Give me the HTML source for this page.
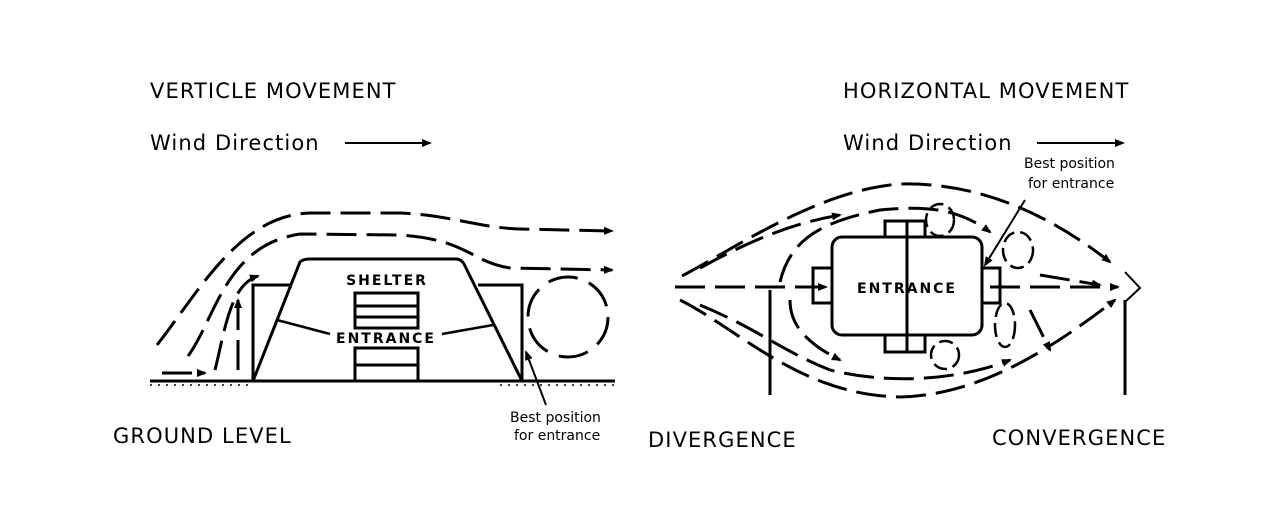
<!DOCTYPE html>
<html><head><meta charset="utf-8"><style>
html,body{margin:0;padding:0;background:#fff}
svg{display:block}
text{font-family:"DejaVu Sans","Liberation Sans",sans-serif;fill:#000}
</style></head><body>
<svg width="1280" height="530" viewBox="0 0 1280 530" xmlns="http://www.w3.org/2000/svg">
<defs>
<marker id="a" markerWidth="10" markerHeight="8" refX="8" refY="4" orient="auto" markerUnits="userSpaceOnUse"><path d="M0,0 L10,4 L0,8 Z" fill="#000"/></marker>
</defs>
<g font-size="21" letter-spacing="1.1">
<text x="150" y="98">VERTICLE MOVEMENT</text>
<text x="150" y="150">Wind Direction</text>
<text x="843" y="98">HORIZONTAL MOVEMENT</text>
<text x="843" y="150">Wind Direction</text>
<text x="113" y="443">GROUND LEVEL</text>
<text x="648" y="447">DIVERGENCE</text>
<text x="992" y="445">CONVERGENCE</text>
</g>
<g font-size="14">
<text x="510" y="422">Best position</text>
<text x="514" y="440">for entrance</text>
<text x="1024" y="168">Best position</text>
<text x="1028" y="188">for entrance</text>
</g>
<g stroke="#000" stroke-width="2" fill="none">
<line x1="345" y1="143" x2="430" y2="143" marker-end="url(#a)"/>
<line x1="1037" y1="143" x2="1123" y2="143" marker-end="url(#a)"/>
</g>
<!-- LEFT -->
<g stroke="#000" stroke-width="3" fill="none">
<line x1="150" y1="381" x2="615" y2="381"/>
<path d="M253,381 L300,262 Q303,259 310,259 L457,259 Q462,260 464,264 L522,381"/>
<path d="M253,381 L253,285 L290,285 M478,285 L522,285 L522,381"/>
<rect x="355" y="293" width="63" height="35"/>
<line x1="355" y1="306" x2="418" y2="306"/><line x1="355" y1="317" x2="418" y2="317"/>
<rect x="355" y="348" width="63" height="33"/>
<line x1="355" y1="365" x2="418" y2="365"/>
<path d="M277,320 L330,334 M493,325 L442,334" stroke-width="2.5"/>
<path d="M546,405 L526,352" stroke-width="2" marker-end="url(#a)"/>
</g>
<g stroke="#000" stroke-width="1.5" stroke-dasharray="2 6">
<line x1="500" y1="385" x2="615" y2="385"/>
<line x1="150" y1="385" x2="250" y2="385"/>
</g>
<g font-size="14" font-weight="bold" letter-spacing="2">
<text x="387" y="285" text-anchor="middle">SHELTER</text>
<text x="386" y="343" text-anchor="middle">ENTRANCE</text>
<text x="907" y="293" text-anchor="middle">ENTRANCE</text>
</g>
<g stroke="#000" stroke-width="3" fill="none" stroke-dasharray="30 10" marker-end="url(#a)">
<path d="M157,345 C200,290 240,215 310,213 L400,213 C450,215 480,228 520,229 L612,231"/>
<path d="M188,356 C215,320 225,245 300,234 L400,235 C470,240 470,262 510,268 L612,270"/>
<path d="M215,370 C225,330 230,285 258,276"/>
<path d="M238,370 L238,300"/>
<path d="M162,373 L205,373"/>
</g>
<g stroke="#000" stroke-width="3" fill="none" stroke-dasharray="30 12">
<circle cx="568" cy="317" r="40"/>
</g>
<!-- RIGHT -->
<g stroke="#000" stroke-width="3" fill="none">
<rect x="832" y="237" width="150" height="98" rx="10"/>
<path d="M885,237 L885,221 L925,221 L925,237 M885,335 L885,352 L925,352 L925,335"/>
<path d="M832,268 L813,268 L813,303 L832,303 M982,268 L1000,268 L1000,303 L982,303"/>
<line x1="907" y1="221" x2="907" y2="352"/>
<line x1="770" y1="290" x2="770" y2="395"/>
<line x1="1125" y1="300" x2="1125" y2="395"/>
<path d="M1125,272 L1140,288 L1125,302" stroke-width="2"/>
<path d="M1025,200 L985,265" stroke-width="2" marker-end="url(#a)"/>
</g>
<g stroke="#000" stroke-width="3" fill="none" stroke-dasharray="30 10" marker-end="url(#a)">
<path d="M675,287 L826,287"/>
<path d="M990,287 L1118,287"/>
<path d="M682,276 C740,245 820,190 900,184 C980,182 1050,215 1110,262"/>
<path d="M700,268 C760,235 800,222 840,215"/>
<path d="M780,282 C790,240 820,222 880,210 C930,205 960,210 990,232"/>
<path d="M680,300 C740,330 800,395 900,397 C980,395 1050,350 1115,300"/>
<path d="M700,305 C760,330 780,350 830,370 C890,385 960,380 1010,360"/>
<path d="M790,300 C790,320 800,340 840,360"/>
<path d="M1030,310 L1050,350"/>
<path d="M1040,275 L1100,285"/>
</g>
<g stroke="#000" stroke-width="2.5" fill="none" stroke-dasharray="14 6">
<ellipse cx="940" cy="220" rx="14" ry="16"/>
<ellipse cx="1018" cy="250" rx="15" ry="18"/>
<ellipse cx="1005" cy="325" rx="10" ry="22"/>
<ellipse cx="945" cy="355" rx="14" ry="14"/>
</g>
</svg>
</body></html>
